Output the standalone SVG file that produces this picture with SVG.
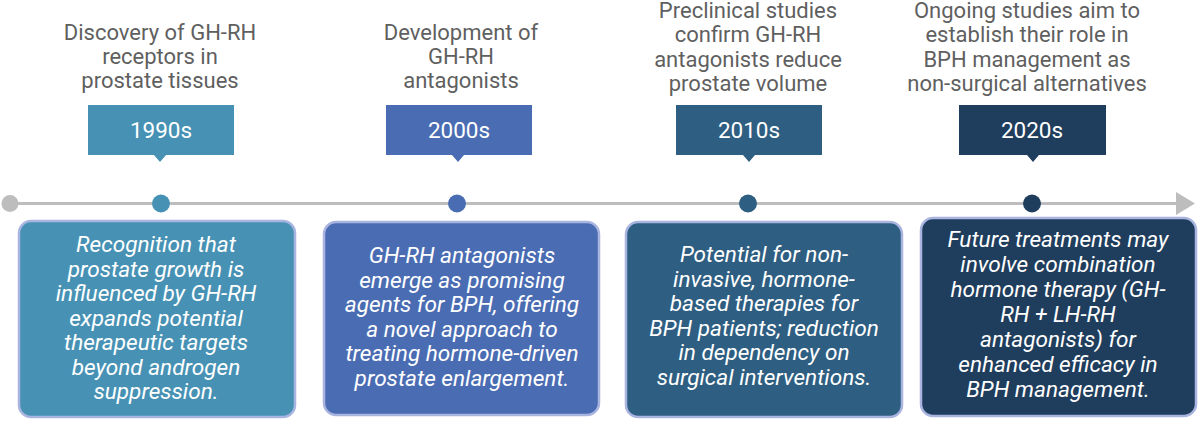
<svg xmlns="http://www.w3.org/2000/svg" width="1200" height="424" viewBox="0 0 1200 424">
<style>
.title{font-family:Roboto,"Liberation Sans",sans-serif;font-size:22px;fill:#5f5f5f;text-anchor:middle}
.year{font-family:Roboto,"Liberation Sans",sans-serif;font-size:22.5px;fill:#ffffff;text-anchor:middle}
.body{font-family:Roboto,"Liberation Sans",sans-serif;font-size:22.6px;font-style:italic;fill:#ffffff;text-anchor:middle}
.card{stroke:#a9b4e0;stroke-width:2.5}
</style>
<rect width="1200" height="424" fill="#ffffff"/>
<g id="connectors">
<line x1="10" y1="203.5" x2="1178" y2="203.5" stroke="#bdbdbd" stroke-width="3"/>
<polygon points="1176,192 1195,203.5 1176,215" fill="#bdbdbd"/>
<circle cx="10" cy="203.5" r="8.5" fill="#bdbdbd"/>
</g>
<g id="node-1990s">
<text class="title" x="160" y="40">Discovery of GH-RH</text>
<text class="title" x="160" y="64">receptors in</text>
<text class="title" x="160" y="88">prostate tissues</text>
<path d="M88,105 H234 V155 H166 L160,162 L154,155 H88 Z" fill="#4792b4"/>
<text class="year" x="161" y="138">1990s</text>
<circle cx="161" cy="203.5" r="9" fill="#4792b4"/>
<rect class="card" x="19" y="221" width="276" height="196" rx="12" fill="#4792b4"/>
<text class="body" x="156" y="252">Recognition that</text>
<text class="body" x="156" y="276.5">prostate growth is</text>
<text class="body" x="156" y="301">influenced by GH-RH</text>
<text class="body" x="156" y="325.5">expands potential</text>
<text class="body" x="156" y="350">therapeutic targets</text>
<text class="body" x="156" y="374.5">beyond androgen</text>
<text class="body" x="156" y="399">suppression.</text>
</g>
<g id="node-2000s">
<text class="title" x="461" y="40">Development of</text>
<text class="title" x="461" y="64">GH-RH</text>
<text class="title" x="461" y="88">antagonists</text>
<path d="M386,105 H532 V155 H464 L458,162 L452,155 H386 Z" fill="#4a6cb3"/>
<text class="year" x="459" y="138">2000s</text>
<circle cx="457" cy="203.5" r="9" fill="#4a6cb3"/>
<rect class="card" x="324" y="222" width="275" height="193" rx="12" fill="#4a6cb3"/>
<text class="body" x="462" y="263">GH-RH antagonists</text>
<text class="body" x="462" y="287.5">emerge as promising</text>
<text class="body" x="462" y="312">agents for BPH, offering</text>
<text class="body" x="462" y="336.5">a novel approach to</text>
<text class="body" x="462" y="361">treating hormone-driven</text>
<text class="body" x="462" y="385.5">prostate enlargement.</text>
</g>
<g id="node-2010s">
<text class="title" x="748" y="18">Preclinical studies</text>
<text class="title" x="748" y="42">confirm GH-RH</text>
<text class="title" x="748" y="67">antagonists reduce</text>
<text class="title" x="748" y="91">prostate volume</text>
<path d="M676,105 H822 V155 H755 L749,162 L743,155 H676 Z" fill="#2e5e81"/>
<text class="year" x="749" y="138">2010s</text>
<circle cx="748" cy="203.5" r="9" fill="#2e5e81"/>
<rect class="card" x="626" y="222" width="276" height="195" rx="12" fill="#2e5e81"/>
<text class="body" x="764" y="262">Potential for non-</text>
<text class="body" x="764" y="286.5">invasive, hormone-</text>
<text class="body" x="764" y="311">based therapies for</text>
<text class="body" x="764" y="335.5">BPH patients; reduction</text>
<text class="body" x="764" y="360">in dependency on</text>
<text class="body" x="764" y="384.5">surgical interventions.</text>
</g>
<g id="node-2020s">
<text class="title" x="1027" y="18">Ongoing studies aim to</text>
<text class="title" x="1027" y="42">establish their role in</text>
<text class="title" x="1027" y="67">BPH management as</text>
<text class="title" x="1027" y="91">non-surgical alternatives</text>
<path d="M959,105 H1106 V155 H1039 L1033,162 L1027,155 H959 Z" fill="#1f3d5c"/>
<text class="year" x="1032" y="138">2020s</text>
<circle cx="1032" cy="203.5" r="9" fill="#1f3d5c"/>
<rect class="card" x="921" y="218" width="275" height="198" rx="12" fill="#1f3d5c"/>
<text class="body" x="1058" y="247">Future treatments may</text>
<text class="body" x="1058" y="272">involve combination</text>
<text class="body" x="1058" y="297">hormone therapy (GH-</text>
<text class="body" x="1058" y="322">RH + LH-RH</text>
<text class="body" x="1058" y="347">antagonists) for</text>
<text class="body" x="1058" y="372">enhanced efficacy in</text>
<text class="body" x="1058" y="397">BPH management.</text>
</g>
</svg>
